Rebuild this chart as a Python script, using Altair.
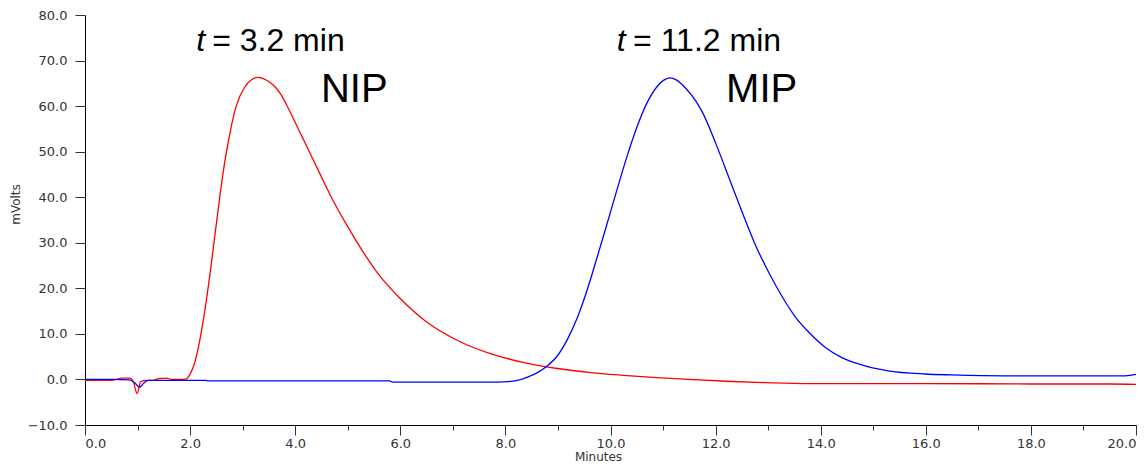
import altair as alt
import pandas as pd

# NIP (red) trace: time in minutes, signal in mV
nip_t = [0.0, 0.5, 0.6, 0.7, 0.85, 0.92, 0.99, 1.06, 1.15, 1.3, 1.4, 1.55, 1.65, 1.85, 1.94,
         2.0, 2.07, 2.13, 2.25, 2.38, 2.47, 2.57, 2.66, 2.76, 2.88, 3.04, 3.17, 3.29, 3.40,
         3.51, 3.62, 3.73, 3.84, 3.95, 4.08, 4.21, 4.46, 4.71, 4.96, 5.27, 5.59, 5.97, 6.47,
         7.10, 7.73, 8.36, 8.99, 9.62, 10.25, 10.88, 11.5, 12.2, 12.96, 13.8, 14.5, 16.0,
         18.0, 19.5, 20.0]
nip_v = [-0.2, -0.2, 0.0, 0.3, 0.3, -0.5, -3.1, -0.5, -0.2, -0.2, 0.2, 0.3, 0.0, 0.0, 0.2,
         1.2, 3.0, 5.6, 12.9, 23.3, 31.5, 40.5, 47.8, 54.2, 60.1, 64.2, 65.8, 66.3, 66.0,
         65.3, 64.2, 62.5, 60.2, 57.6, 54.5, 51.4, 45.4, 39.5, 34.3, 28.4, 23.0, 18.1, 12.9,
         8.5, 5.6, 3.7, 2.4, 1.5, 0.9, 0.4, 0.0, -0.4, -0.7, -0.9, -0.9, -0.9,
         -1.0, -1.0, -1.1]

# MIP (blue) trace
mip_t = [0.0, 0.5, 0.85, 0.95, 1.04, 1.12, 1.2, 2.3, 2.35, 5.8, 5.85, 7.86, 8.05, 8.23, 8.42,
         8.61, 8.80, 8.99, 9.18, 9.37, 9.56, 9.74, 9.93, 10.12, 10.31, 10.50, 10.69, 10.88,
         11.0, 11.13, 11.26, 11.44, 11.63, 11.76, 12.01, 12.26, 12.51, 12.77, 13.02, 13.27,
         13.52, 13.77, 14.09, 14.40, 14.78, 15.28, 15.98, 16.5, 17.5, 19.0, 19.8, 20.0]
mip_v = [0.0, 0.0, -0.1, -0.8, -1.7, -0.8, -0.2, -0.2, -0.3, -0.3, -0.6, -0.6, -0.5, -0.2, 0.5,
         1.5, 3.0, 5.2, 8.8, 13.6, 19.8, 26.6, 34.0, 41.5, 48.8, 55.3, 60.6, 64.2,
         65.6, 66.2, 65.7, 63.8, 61.0, 58.4, 51.6, 44.1, 36.6, 29.2, 23.3, 18.1,
         13.7, 10.4, 7.0, 4.8, 3.2, 1.9, 1.2, 1.0, 0.8, 0.8, 0.8, 1.1]

series_names = ["NIP", "MIP"]
series_colors = ["#ff0000", "#0000ff"]

# annotations (position in data units: minutes, mV)
ann_t_x = [2.115, 10.12]
ann_eq_x = [2.42, 10.43]
ann_eq_text = ["= 3.2 min", "= 11.2 min"]
ann_time_y = [72.0, 72.0]
ann_name_x = [4.49, 12.2]
ann_name_y = [61.0, 61.0]

df = pd.concat([
    pd.DataFrame({"t": nip_t, "v": nip_v, "s": "NIP"}),
    pd.DataFrame({"t": mip_t, "v": mip_v, "s": "MIP"}),
])
df_t = pd.DataFrame({"x": ann_t_x, "y": ann_time_y, "txt": ["t", "t"]})
df_eq = pd.DataFrame({"x": ann_eq_x, "y": ann_time_y, "txt": ann_eq_text})
df_name = pd.DataFrame({"x": ann_name_x, "y": ann_name_y, "txt": series_names})

x_scale = alt.Scale(domain=[0, 20], nice=False, zero=False)
y_scale = alt.Scale(domain=[-10, 80], nice=False, zero=False)

x_axis = alt.Axis(
    title="Minutes", values=list(range(0, 21)),
    labelExpr="datum.value % 2 === 0 ? format(datum.value, '.1f') : ''",
    tickSize={"condition": {"test": "datum.value % 2 === 0", "value": 10}, "value": 5},
    labelFlush=True, labelFont="DejaVu Sans", labelFontSize=13, labelColor="#333333",
    titleFont="DejaVu Sans", titleFontSize=12, titleFontWeight="normal", titleColor="#333333",
    titlePadding=1, titleX=513, domainColor="#000000", tickColor="#333333", grid=False,
    labelPadding=2, labelOverlap=False,
)
y_axis = alt.Axis(
    title="mVolts", values=list(range(-10, 81, 5)),
    labelExpr="datum.value % 10 === 0 ? format(datum.value, '.1f') : ''",
    tickSize={"condition": {"test": "datum.value % 10 === 0", "value": 10}, "value": 5},
    labelFont="DejaVu Sans", labelFontSize=13, labelColor="#333333",
    titleFont="DejaVu Sans", titleFontSize=12, titleFontWeight="normal", titleColor="#333333",
    titlePadding=5, titleY=189, domainColor="#000000", tickColor="#333333", grid=False,
    labelPadding=8, labelOverlap=False,
)

lines = alt.Chart(df).mark_line(strokeWidth=1.3, interpolate="monotone").encode(
    x=alt.X("t:Q", scale=x_scale, axis=x_axis),
    y=alt.Y("v:Q", scale=y_scale, axis=y_axis),
    color=alt.Color("s:N", scale=alt.Scale(domain=series_names, range=series_colors), legend=None),
    detail="s:N",
)

t_text = alt.Chart(df_t).mark_text(
    align="left", baseline="alphabetic", font="Liberation Sans", fontSize=32,
    fontStyle="italic", color="#000000"
).encode(x="x:Q", y="y:Q", text="txt:N")

eq_text = alt.Chart(df_eq).mark_text(
    align="left", baseline="alphabetic", font="Liberation Sans", fontSize=32, color="#000000"
).encode(x="x:Q", y="y:Q", text="txt:N")

name_text = alt.Chart(df_name).mark_text(
    align="left", baseline="alphabetic", font="Liberation Sans", fontSize=40, color="#000000"
).encode(x="x:Q", y="y:Q", text="txt:N")

chart = alt.layer(lines, t_text, eq_text, name_text).properties(
    width=1131, height=454,
    autosize=alt.AutoSizeParams(type="fit", contains="padding"),
    padding={"left": 1, "top": 1, "right": 0, "bottom": 0},
    background="#ffffff",
).configure_view(stroke=None)

chart.save("out.html", embed_options={"renderer": "svg", "actions": False})
